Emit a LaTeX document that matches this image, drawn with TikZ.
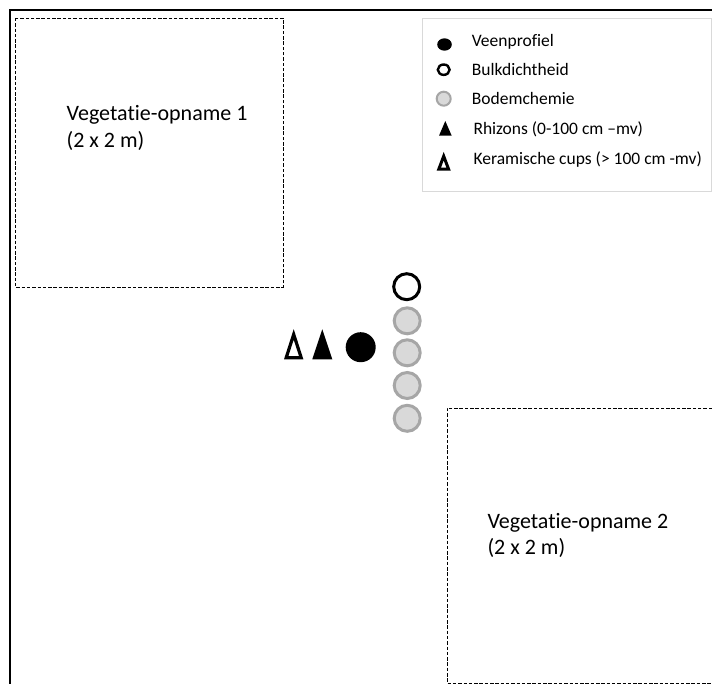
\documentclass[tikz,border=0pt]{standalone}
\usepackage{fontspec}
\setmainfont[Ligatures={NoCommon,NoContextual}]{Carlito}
\definecolor{chemfill}{HTML}{D9D9D9}
\definecolor{chemline}{HTML}{A6A6A6}
\definecolor{legline}{HTML}{D9D9D9}
\begin{document}
\begin{tikzpicture}[x=1pt,y=-1pt,
  dashbox/.style={draw=black, line width=0.9pt, dash pattern=on 3.5pt off 1.8pt},
  lbl/.style={inner sep=0pt, anchor=base west, font=\fontsize{22}{26.7}\selectfont},
  leg/.style={inner sep=0pt, anchor=base west, font=\fontsize{17.5}{21}\selectfont},
  bulk/.style={circle, draw=black, line width=3pt, minimum size=26pt, inner sep=0pt},
  chem/.style={circle, draw=chemline, fill=chemfill, line width=3pt, minimum size=26pt, inner sep=0pt},
  veen/.style={circle, fill=black, minimum size=30pt, inner sep=0pt},
  opentri/.style={draw=black, line width=3.2pt, line join=miter, miter limit=10},
]
\useasboundingbox (0,0) rectangle (712,684);
\fill[white] (0,0) rectangle (712,684);
% outer frame (only left and top visible)
\draw[line width=1.8pt] (10,684) -- (10,10) -- (712,10);
% legend box
\draw[draw=legline, line width=1pt] (422,19) rectangle (711,192);
% vegetation plots
\draw[dashbox] (15,18) rectangle (283,287);
\draw[dashbox] (712,408) -- (447,408) -- (447,683) -- (712,683);
% plot labels
\node[lbl] (v1a) at (66.5,121) {Vegetatie-opname 1};
\node[lbl] (v1b) at (66.5,147.7) {(2 x 2 m)};
\node[lbl] (v2a) at (487.3,528) {Vegetatie-opname 2};
\node[lbl] (v2b) at (487.3,554.7) {(2 x 2 m)};
% legend symbols
\fill[black] (444.5,44.5) ellipse [x radius=7.3, y radius=6.2];
\draw[black, line width=2.4pt] (443.7,69.7) ellipse [x radius=5.9, y radius=5.2];
\draw[draw=chemline, fill=chemfill, line width=2pt] (443.7,98.7) circle [radius=7];
\fill[black] (445.3,121) -- (439,135.7) -- (451.7,135.7) -- cycle;
\draw[opentri, line width=3pt] (443.7,156.2) -- (438.8,169.2) -- (448.6,169.2) -- cycle;
% legend texts
\node[leg] (l1) at (471.7,46.7) {Veenprofiel};
\node[leg] (l2) at (471.7,75.7) {Bulkdichtheid};
\node[leg] (l3) at (471.7,105) {Bodemchemie};
\node[leg] (l4) at (473.3,135) {Rhizons (0-100 cm –mv)};
\node[leg] (l5) at (473.3,165) {Keramische cups (> 100 cm -mv)};
% sampling points
\draw[opentri] (293.7,334.4) -- (286.2,357.7) -- (301.2,357.7) -- cycle;
\fill[black] (322.3,329.3) -- (312.3,359.3) -- (332.3,359.3) -- cycle;
\node[veen] (vp) at (360.7,347.2) {};
\node[bulk] (bd) at (406.7,286.7) {};
\node[chem] (c1) at (407.2,320.8) {};
\node[chem] (c2) at (407.2,352.8) {};
\node[chem] (c3) at (407.2,385.5) {};
\node[chem] (c4) at (407.2,418.3) {};
\end{tikzpicture}
\end{document}
